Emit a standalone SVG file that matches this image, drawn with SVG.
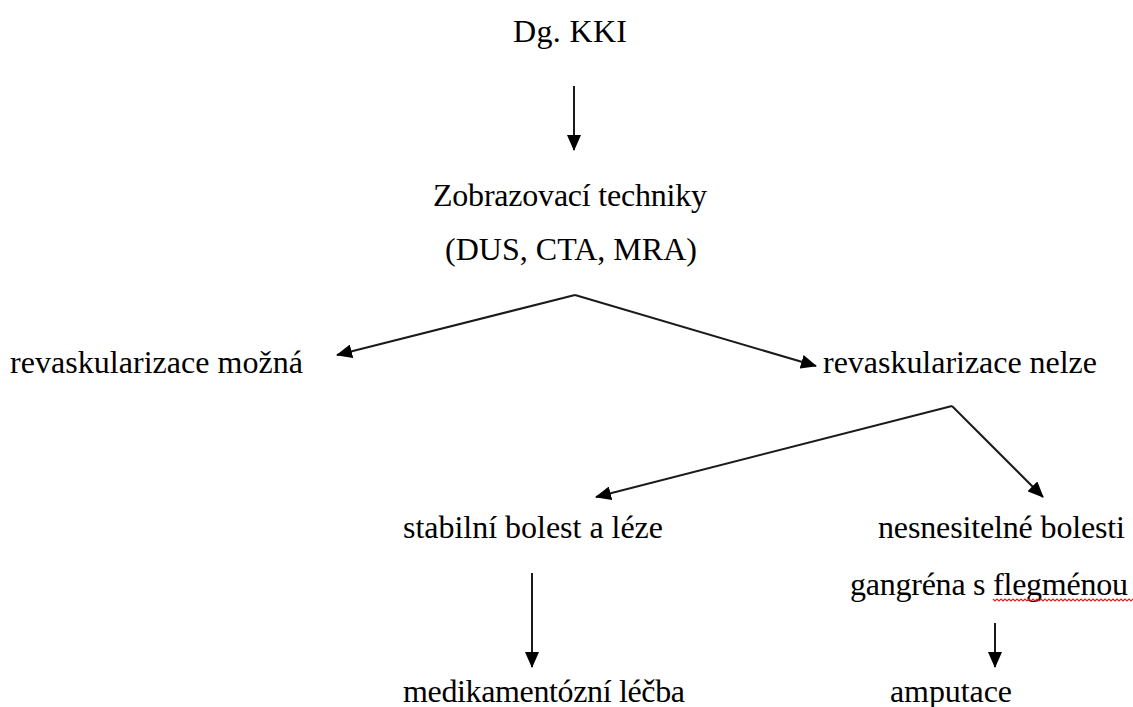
<svg xmlns="http://www.w3.org/2000/svg" width="1133" height="707" viewBox="0 0 1133 707">
<style>
  .t { font-family: "Liberation Serif", "Times New Roman", serif; font-size: 32px; fill: #000; }
  .c { stroke: #1a1a1a; stroke-width: 2; fill: none; }
  .sq { stroke: #e02020; stroke-width: 1.2; fill: none; }
</style>
<defs>
  <marker id="ah" markerUnits="userSpaceOnUse" markerWidth="16" markerHeight="14" refX="15" refY="7" orient="auto">
    <path d="M0,0 L16,7 L0,14 Z" fill="#000"/>
  </marker>
</defs>
<rect width="1133" height="707" fill="#fff"/>
<g id="connectors">
  <line class="c" x1="574" y1="86" x2="574" y2="150" marker-end="url(#ah)"/>
  <line class="c" x1="575" y1="295" x2="337" y2="355" marker-end="url(#ah)"/>
  <line class="c" x1="575" y1="295" x2="816" y2="366" marker-end="url(#ah)"/>
  <line class="c" x1="952" y1="406" x2="596" y2="497" marker-end="url(#ah)"/>
  <line class="c" x1="952" y1="406" x2="1043" y2="497" marker-end="url(#ah)"/>
  <line class="c" x1="532" y1="573" x2="532" y2="667" marker-end="url(#ah)"/>
  <line class="c" x1="995" y1="623" x2="995" y2="667" marker-end="url(#ah)"/>
</g>
<g id="n-dg"><text class="t" x="513" y="42" textLength="114">Dg. KKI</text></g>
<g id="n-zobrazovaci">
  <text class="t" x="433" y="206" textLength="274">Zobrazovací techniky</text>
  <text class="t" x="445" y="260" textLength="252">(DUS, CTA, MRA)</text>
</g>
<g id="n-mozna"><text class="t" x="10" y="373" textLength="293">revaskularizace možná</text></g>
<g id="n-nelze"><text class="t" x="823" y="373" textLength="274">revaskularizace nelze</text></g>
<g id="n-stabilni"><text class="t" x="403" y="538" textLength="260">stabilní bolest a léze</text></g>
<g id="n-nesnesitelne">
  <text class="t" x="878" y="538" textLength="247">nesnesitelné bolesti</text>
  <text class="t" x="850" y="595" textLength="278">gangréna s flegménou</text>
  <path class="sq" d="M993,599 l2,2 l2,-2 l2,2 l2,-2 l2,2 l2,-2 l2,2 l2,-2 l2,2 l2,-2 l2,2 l2,-2 l2,2 l2,-2 l2,2 l2,-2 l2,2 l2,-2 l2,2 l2,-2 l2,2 l2,-2 l2,2 l2,-2 l2,2 l2,-2 l2,2 l2,-2 l2,2 l2,-2 l2,2 l2,-2 l2,2 l2,-2 l2,2 l2,-2 l2,2 l2,-2 l2,2 l2,-2 l2,2 l2,-2 l2,2 l2,-2 l2,2 l2,-2 l2,2 l2,-2 l2,2 l2,-2 l2,2 l2,-2 l2,2 l2,-2 l2,2 l2,-2 l2,2 l2,-2 l2,2 l2,-2 l2,2 l2,-2 l2,2 l2,-2 l2,2 l2,-2 l2,2 l2,-2 l2,2 l2,-2 l2,2 l2,-2 l2,2 l2,-2 l2,2"/>
</g>
<g id="n-medikamentozni"><text class="t" x="403" y="702" textLength="282">medikamentózní léčba</text></g>
<g id="n-amputace"><text class="t" x="890" y="702" textLength="122">amputace</text></g>
</svg>
